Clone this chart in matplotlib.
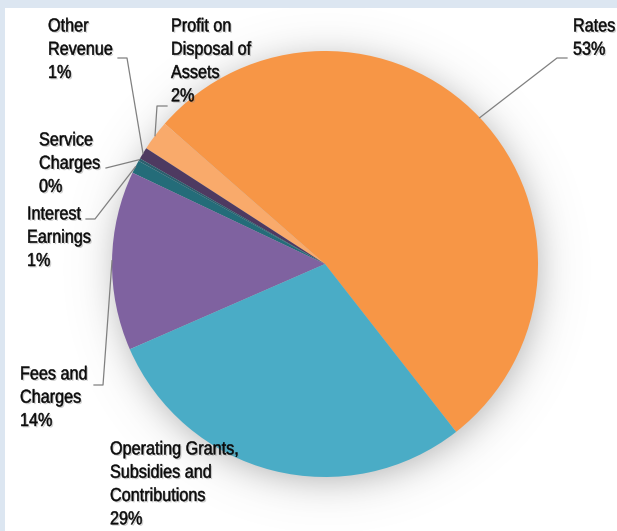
import numpy as np
import matplotlib
matplotlib.use("Agg")
import matplotlib.pyplot as plt
import matplotlib.patheffects as pe
from matplotlib.patches import Rectangle, PathPatch
from matplotlib.textpath import TextPath
from matplotlib.font_manager import FontProperties
from matplotlib.transforms import Affine2D

# revenue by source, % of total
categories = ["Rates", "Profit on\nDisposal of\nAssets", "Other\nRevenue", "Service\nCharges",
              "Interest\nEarnings", "Fees and\nCharges", "Operating Grants,\nSubsidies and\nContributions"]
shares = [53.0, 2.3, 0.9, 0.2, 1.0, 13.6, 29.0]
colors = ["#F79646", "#F9AA6B", "#4E3A61", "#2B5F6E", "#246C79", "#7F62A0", "#4AACC6"]

W, H = 617, 531
CX, CY, R = 325, 264, 213          # pie centre / radius in pixels
EM_X, EM_Y, CAP, LINE = 16.2, 18.7, 13.4, 23.3   # label glyph metrics in pixels


def px(x, y):
    # pixel position (from top-left) -> data units of the pie
    return (x - CX) / R, (CY - y) / R


# label top-left corners and leader elbows (pixels)
label_pos = [(573, 18), (171, 18), (48, 18), (39, 132), (27, 206), (20, 366), (110, 441)]
leaders = [[(567, 58), (557, 58)], [(167, 106), (157, 106)], [(118, 58), (127, 58)],
           [(106, 168)], [(86, 219), (95, 219)], [(94, 385), (103, 385)], None]

font = FontProperties(family='Liberation Sans')
fig = plt.figure(figsize=(W / 100, H / 100), dpi=100)
ax = fig.add_axes([0, 0, 1, 1])

x0, y1 = px(0, 0)
x1, y0 = px(W, H)

# soft shadow behind the pie
gx = np.linspace(x0, x1, W)
gy = np.linspace(y1, y0, H)
XX, YY = np.meshgrid(gx, gy)
rr = np.hypot(XX - 0.01, YY + 0.025)
shadow = np.zeros((H, W, 4))
shadow[..., :3] = 0.42
shadow[..., 3] = 0.48 / (1 + np.exp((rr - 1.0) / 0.05))
ax.imshow(shadow, extent=(x0, x1, y0, y1), zorder=0, interpolation='bilinear')

wedges, _ = ax.pie(shares, colors=colors, startangle=-52, counterclock=True, radius=1,
                   wedgeprops=dict(linewidth=0))
for w in wedges:
    w.set_zorder(2)

ax.set_xlim(x0, x1)
ax.set_ylim(y0, y1)
ax.set_aspect('auto')
ax.axis('off')

shadow_fx = [pe.SimplePatchShadow(offset=(1, -1), shadow_rgbFace='#888888', alpha=0.4), pe.Normal()]


def label(s, x, y):
    # narrow, tall glyphs: text outlines scaled separately in x and y
    for i, line in enumerate(s.split("\n")):
        tp = TextPath((0, 0), line, size=1, prop=font)
        tr = Affine2D().scale(EM_X / R, EM_Y / R).translate(*px(x, y + CAP + i * LINE))
        ax.add_patch(PathPatch(tp, transform=tr + ax.transData, facecolor='#0a0a0a',
                               edgecolor='#0a0a0a', linewidth=0.35,
                               path_effects=shadow_fx, zorder=4))


for name, val, (lx, ly), lead, w in zip(categories, shares, label_pos, leaders, wedges):
    label(f"{name}\n{val:.0f}%", lx, ly)
    if lead is None:
        continue
    mid = np.deg2rad((w.theta1 + w.theta2) / 2)
    pts = [px(*p) for p in lead] + [(np.cos(mid), np.sin(mid))]
    ax.plot([p[0] for p in pts], [p[1] for p in pts], color='#808080', lw=0.9, zorder=3)

# light frame along the top and left edges
fig.add_artist(Rectangle((0, 1 - 8 / H), 1, 8 / H, transform=fig.transFigure,
                         facecolor='#DCE6F1', edgecolor='none'))
fig.add_artist(Rectangle((0, 0), 5 / W, 1, transform=fig.transFigure,
                         facecolor='#DCE6F1', edgecolor='none'))

fig.savefig("out.png", dpi=100)
